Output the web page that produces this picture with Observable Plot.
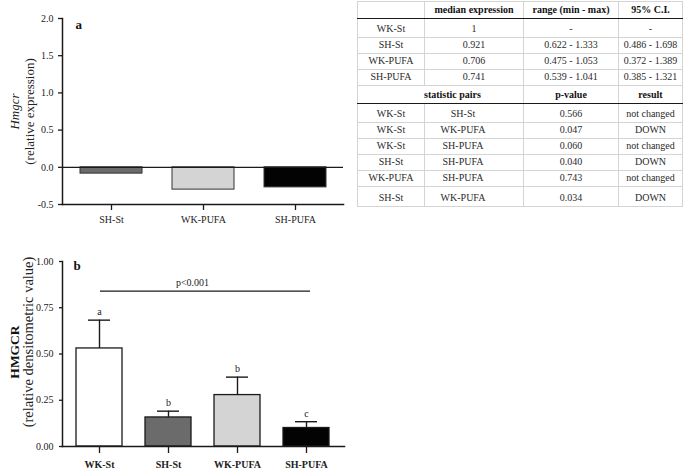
<!DOCTYPE html>
<html><head><meta charset="utf-8">
<script src="https://cdn.jsdelivr.net/npm/d3@7"></script>
<script src="https://cdn.jsdelivr.net/npm/@observablehq/plot@0.6"></script>
<style>
body{margin:0;background:#fff;}
#wrap{position:relative;width:685px;height:470px;overflow:hidden;font-family:"Liberation Serif",serif;}
#pa{position:absolute;left:0;top:0;}
#pb{position:absolute;left:0;top:245px;}
#tbl{position:absolute;left:357px;top:1px;}
table{border-collapse:collapse;border:1.5px solid #1a1a1a;font:10px "Liberation Serif",serif;color:#2a2a2a;table-layout:fixed;}
td,th{border:1px solid #d4d4d4;text-align:center;vertical-align:bottom;padding:0 0 2px 0;line-height:12px;white-space:nowrap;}
th{font-weight:bold;color:#111;}
tr.hd th{border-bottom:1.5px solid #1a1a1a;}
tr.sh th{border-bottom:1.5px solid #1a1a1a;}
</style></head>
<body>
<div id="wrap">
  <div id="pa"></div>
  <div id="tbl"></div>
  <div id="pb"></div>
</div>
<script>
// ---- Panel a data ----
const groupsA = ["SH-St", "WK-PUFA", "SH-PUFA"];
const valuesA = [-0.085, -0.30, -0.27];
const ticksA = [-0.5, 0, 0.5, 1, 1.5, 2];

// ---- Panel b data ----
const groupsB = ["WK-St", "SH-St", "WK-PUFA", "SH-PUFA"];
const meansB = [0.53, 0.157, 0.278, 0.10];
const errorsB = [0.153, 0.034, 0.097, 0.034];
const lettersB = ["a", "b", "b", "c"];
const ticksB = [0, 0.25, 0.5, 0.75, 1];
const sigLabel = "p<0.001";
const sigLevel = 0.84;

// ---- Colours per group ----
const colorGroups = ["WK-St", "SH-St", "WK-PUFA", "SH-PUFA"];
const colorValues = ["#ffffff", "#6b6b6b", "#d4d4d4", "#030303"];

// ---- Table data ----
const tableHeader = ["", "median expression", "range (min - max)", "95% C.I."];
const tableGroups = ["WK-St", "SH-St", "WK-PUFA", "SH-PUFA"];
const medians = ["1", "0.921", "0.706", "0.741"];
const ranges = ["-", "0.622 - 1.333", "0.475 - 1.053", "0.539 - 1.041"];
const cis = ["-", "0.486 - 1.698", "0.372 - 1.389", "0.385 - 1.321"];
const statHeader = ["statistic pairs", "p-value", "result"];
const pairFirst = ["WK-St", "WK-St", "WK-St", "SH-St", "WK-PUFA", "SH-St"];
const pairSecond = ["SH-St", "WK-PUFA", "SH-PUFA", "SH-PUFA", "SH-PUFA", "WK-PUFA"];
const pValues = ["0.566", "0.047", "0.060", "0.040", "0.743", "0.034"];
const results = ["not changed", "DOWN", "not changed", "DOWN", "not changed", "DOWN"];

const font = "Liberation Serif";
const ink = "#1a1a1a";

// ===== Panel a =====
const dataA = groupsA.map((g, i) => ({group: g, value: valuesA[i]}));
const plotA = Plot.plot({
  width: 350, height: 230,
  marginLeft: 62, marginRight: 7, marginTop: 18, marginBottom: 26,
  style: {fontFamily: font, fontSize: "10px", color: "#222", background: "transparent", overflow: "visible"},
  x: {domain: groupsA, paddingInner: 0.33, paddingOuter: 0.19, axis: null},
  y: {domain: [-0.5, 2], axis: null},
  color: {domain: colorGroups, range: colorValues},
  marks: [
    Plot.barY(dataA, {x: "group", y: "value", fill: "group", stroke: "#333", strokeWidth: 1}),
    Plot.ruleY([0], {stroke: ink, strokeWidth: 1.3}),
    Plot.frame({anchor: "left", stroke: ink, strokeWidth: 1.5}),
    Plot.frame({anchor: "bottom", stroke: ink, strokeWidth: 1.5}),
    Plot.axisX({tickSize: 6, tickPadding: 5, label: null, strokeWidth: 1.3, stroke: ink}),
    Plot.axisY({ticks: ticksA, tickFormat: d => d.toFixed(1), tickSize: 4, tickPadding: 5, label: null, strokeWidth: 1.3, stroke: ink}),
    Plot.text(["a"], {frameAnchor: "top-left", textAnchor: "start", lineAnchor: "middle", dx: 13, dy: 6, fontWeight: "bold", fontSize: 13, fill: "#111"}),
    Plot.text(["Hmgcr"], {frameAnchor: "left", textAnchor: "middle", lineAnchor: "middle", rotate: -90, dx: -48, fontStyle: "italic", fontSize: 13, fill: "#222"}),
    Plot.text(["(relative expression)"], {frameAnchor: "left", textAnchor: "middle", lineAnchor: "middle", rotate: -90, dx: -33, fontSize: 13, fill: "#222"})
  ]
});
document.getElementById("pa").appendChild(plotA);

// ===== Panel b =====
const dataB = groupsB.map((g, i) => ({group: g, mean: meansB[i], upper: meansB[i] + errorsB[i], letter: lettersB[i]}));
const plotB = Plot.plot({
  width: 350, height: 225,
  marginLeft: 62, marginRight: 6, marginTop: 16, marginBottom: 24,
  style: {fontFamily: font, fontSize: "10px", color: "#222", background: "transparent", overflow: "visible"},
  x: {domain: groupsB, paddingInner: 0.33, paddingOuter: 0.18, axis: null},
  y: {domain: [0, 1], axis: null},
  color: {domain: colorGroups, range: colorValues},
  marks: [
    Plot.ruleX(dataB, {x: "group", y1: "mean", y2: "upper", stroke: ink, strokeWidth: 1.4}),
    Plot.tickY(dataB, {x: "group", y: "upper", insetLeft: 12, insetRight: 12, stroke: ink, strokeWidth: 1.4}),
    Plot.barY(dataB, {x: "group", y: "mean", fill: "group", stroke: ink, strokeWidth: 1.3}),
    Plot.text(dataB, {x: "group", y: "upper", text: "letter", dy: -8, lineAnchor: "middle", fontSize: 10, fill: "#222"}),
    Plot.ruleY([sigLevel], {x1: () => groupsB[0], x2: () => groupsB[groupsB.length - 1], insetLeft: 24, insetRight: 19, stroke: ink, strokeWidth: 1.4}),
    Plot.text([sigLabel], {x: () => groupsB[1], y: () => sigLevel, dx: 24, dy: -8, lineAnchor: "middle", fontSize: 10, fill: "#222"}),
    Plot.frame({anchor: "left", stroke: ink, strokeWidth: 1.5}),
    Plot.frame({anchor: "bottom", stroke: ink, strokeWidth: 1.5}),
    Plot.axisX({tickSize: 7, tickPadding: 7, label: null, strokeWidth: 1.3, stroke: ink, fontWeight: "bold"}),
    Plot.axisY({ticks: ticksB, tickFormat: d => d.toFixed(2), tickSize: 3, tickPadding: 6, label: null, strokeWidth: 1.3, stroke: ink}),
    Plot.text(["b"], {frameAnchor: "top-left", textAnchor: "start", lineAnchor: "middle", dx: 11, dy: 4.5, fontWeight: "bold", fontSize: 13, fill: "#111"}),
    Plot.text(["HMGCR"], {frameAnchor: "left", textAnchor: "middle", lineAnchor: "middle", rotate: -90, dx: -48, dy: -2, fontWeight: "bold", fontSize: 13.5, fill: "#111"}),
    Plot.text(["(relative densitometric value)"], {frameAnchor: "left", textAnchor: "middle", lineAnchor: "middle", rotate: -90, dx: -34, dy: -12, fontSize: 14.5, fill: "#222"})
  ]
});
document.getElementById("pb").appendChild(plotB);

// ===== Table =====
const colWidths = [67, 99, 95, 64];
const table = document.createElement("table");
table.style.width = colWidths.reduce((a, b) => a + b, 0) + "px";
const cg = document.createElement("colgroup");
colWidths.forEach(w => { const c = document.createElement("col"); c.style.width = w + "px"; cg.appendChild(c); });
table.appendChild(cg);
function addRow(cells, tag, h, cls) {
  const tr = document.createElement("tr");
  if (cls) tr.className = cls;
  tr.style.height = h + "px";
  cells.forEach(c => {
    const el = document.createElement(tag);
    el.textContent = c.text;
    if (c.span) el.colSpan = c.span;
    if (c.style) Object.assign(el.style, c.style);
    tr.appendChild(el);
  });
  table.appendChild(tr);
}
addRow(tableHeader.map(t => ({text: t})), "th", 17, "hd");
const hA = [19, 16, 16, 16];
tableGroups.forEach((g, i) => addRow([{text: g}, {text: medians[i]}, {text: ranges[i]}, {text: cis[i]}], "td", hA[i]));
addRow([{text: statHeader[0], span: 2, style: {paddingLeft: "24px"}}, {text: statHeader[1]}, {text: statHeader[2]}], "th", 18, "sh");
const hB = [19, 16, 16, 16, 16, 20];
pairFirst.forEach((g, i) => addRow([
  {text: g},
  {text: pairSecond[i], style: {paddingRight: "22px"}},
  {text: pValues[i]},
  {text: results[i]}
], "td", hB[i]));
document.getElementById("tbl").appendChild(table);
</script>
</body></html>
